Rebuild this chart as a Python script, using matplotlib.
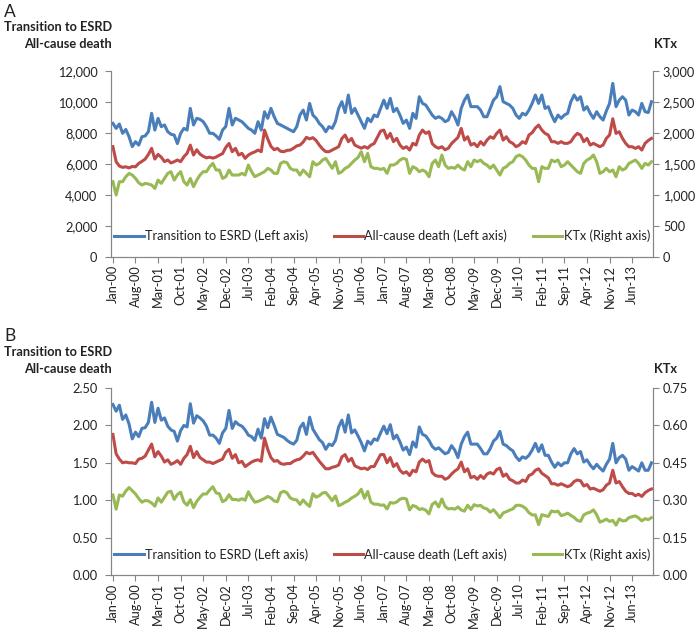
import matplotlib.pyplot as plt
import numpy as np
from matplotlib.ticker import FuncFormatter, MultipleLocator

plt.rcParams['font.family'] = ['Lato', 'DejaVu Sans']

# x axis labels (every 7th month, Jan-00 .. Jun-13)
tick_labels = ['Jan-00', 'Aug-00', 'Mar-01', 'Oct-01', 'May-02', 'Dec-02', 'Jul-03', 'Feb-04',
               'Sep-04', 'Apr-05', 'Nov-05', 'Jun-06', 'Jan-07', 'Aug-07', 'Mar-08', 'Oct-08',
               'May-09', 'Dec-09', 'Jul-10', 'Feb-11', 'Sep-11', 'Apr-12', 'Nov-12', 'Jun-13']

# panel A - monthly counts, Jan 2000 .. Dec 2013
esrd_n = [
    8600, 8280, 8560, 7960, 8210, 7740, 7100, 7420, 7200, 7740, 7790, 8065,
    9250, 8170, 8925, 8390, 8500, 8065, 7900, 7850, 7300, 7960, 8280, 8170,
    9570, 8500, 8925, 8860, 8710, 8390, 7960, 7960, 7790, 7570, 8170, 8400,
    9570, 8500, 8930, 8820, 8710, 8500, 8280, 8170, 7960, 8710, 8170, 9350,
    8930, 9570, 9030, 8600, 8500, 8390, 8280, 8170, 8060, 8390, 9140, 9460,
    8820, 9890, 9140, 8930, 8600, 8390, 8060, 8390, 8280, 8710, 9570, 10000,
    9300, 10430, 9250, 9570, 9140, 8700, 8280, 8930, 8710, 9140, 9030, 9570,
    10100, 9570, 10215, 9355, 9570, 9140, 8600, 8815, 8280, 9250, 8925, 10320,
    9890, 9785, 9460, 9140, 8925, 9030, 8925, 8710, 8815, 9355, 9000, 8495,
    9570, 10100, 10430, 9680, 9680, 9680, 9460, 9030, 9030, 9570, 10100, 10320,
    10970, 10000, 9890, 9785, 9570, 9140, 8925, 9250, 9140, 9460, 9890, 10430,
    9890, 10430, 9570, 9680, 9140, 8710, 9140, 8925, 9140, 9250, 10000, 10430,
    10100, 10320, 9460, 9680, 9250, 8925, 9355, 9030, 8815, 9400, 9890, 11180,
    9680, 10100, 10320, 10100, 9140, 9460, 9355, 9140, 9890, 9355, 9300, 10000,
]
death_n = [
    7100, 6130, 5850, 5765, 5800, 5730, 5820, 5800, 6020, 6150, 6300, 6600,
    6990, 6300, 6600, 6420, 6130, 6240, 6050, 6130, 6240, 6130, 6450, 6670,
    7200, 6560, 6900, 6620, 6480, 6380, 6420, 6360, 6430, 6550, 6650, 7050,
    7310, 6775, 6990, 6560, 6670, 6345, 6560, 6680, 6760, 6880, 6775, 8170,
    7600, 7120, 6900, 6990, 6800, 6775, 6860, 6880, 7000, 7150, 7200, 7400,
    7700, 7600, 7680, 7500, 7200, 6950, 6775, 6775, 6880, 6990, 7100, 7630,
    7850, 7420, 7630, 7200, 7100, 7000, 7100, 7000, 7200, 7300, 7700, 8100,
    8170, 7634, 7956, 7420, 7634, 7204, 6988, 7096, 6880, 7312, 7204, 7850,
    8170, 7956, 8063, 7300, 7096, 7000, 7096, 6900, 7000, 7300, 7500, 7700,
    8278, 7524, 7740, 7204, 7312, 7096, 7420, 7204, 7524, 7740, 7634, 7956,
    8170, 7524, 7740, 7420, 7312, 7096, 7204, 7420, 7312, 7850, 8000, 8300,
    8492, 8170, 7956, 7850, 7420, 7420, 7312, 7420, 7312, 7312, 7420, 7740,
    7956, 7850, 7420, 7634, 7204, 7312, 7204, 7096, 7204, 7634, 7850, 8900,
    7956, 8063, 7634, 7312, 7096, 7096, 6988, 7096, 6880, 7312, 7500, 7634,
]
ktx_n = [
    1210, 995, 1210, 1210, 1290, 1344, 1317, 1263, 1193, 1156, 1183, 1172,
    1156, 1102, 1236, 1183, 1263, 1344, 1371, 1236, 1317, 1371, 1210, 1156,
    1263, 1129, 1236, 1317, 1371, 1371, 1452, 1505, 1398, 1398, 1263, 1290,
    1398, 1317, 1317, 1317, 1344, 1317, 1478, 1371, 1290, 1317, 1344, 1371,
    1425, 1398, 1344, 1344, 1505, 1532, 1516, 1425, 1398, 1398, 1317, 1398,
    1344, 1290, 1532, 1478, 1505, 1559, 1586, 1505, 1425, 1532, 1344, 1371,
    1425, 1452, 1505, 1559, 1600, 1693, 1532, 1666, 1452, 1425, 1425, 1408,
    1425, 1344, 1478, 1478, 1505, 1559, 1586, 1570, 1344, 1452, 1425, 1371,
    1398, 1371, 1290, 1505, 1559, 1452, 1640, 1478, 1425, 1441, 1425, 1478,
    1425, 1398, 1532, 1452, 1559, 1532, 1559, 1505, 1478, 1425, 1478, 1398,
    1317, 1425, 1452, 1505, 1532, 1613, 1640, 1613, 1559, 1478, 1425, 1425,
    1210, 1452, 1425, 1425, 1559, 1532, 1559, 1452, 1478, 1532, 1478, 1425,
    1371, 1344, 1505, 1559, 1586, 1640, 1532, 1344, 1371, 1425, 1371, 1398,
    1290, 1452, 1398, 1425, 1505, 1532, 1559, 1505, 1425, 1505, 1478, 1532,
]

# panel B - monthly rates
esrd_rate = [
    2.28, 2.19, 2.27, 2.08, 2.14, 2.02, 1.82, 1.91, 1.85, 1.96, 1.97, 2.04,
    2.31, 2.04, 2.23, 2.07, 2.10, 1.99, 1.94, 1.92, 1.79, 1.93, 2.00, 1.98,
    2.29, 2.03, 2.13, 2.10, 2.06, 1.99, 1.87, 1.87, 1.83, 1.76, 1.90, 1.96,
    2.20, 1.96, 2.05, 2.01, 1.99, 1.94, 1.87, 1.85, 1.80, 1.95, 1.83, 2.09,
    1.97, 2.11, 2.00, 1.88, 1.86, 1.84, 1.80, 1.77, 1.75, 1.80, 1.97, 2.03,
    1.88, 2.11, 1.95, 1.88, 1.81, 1.77, 1.68, 1.75, 1.73, 1.80, 1.98, 2.07,
    1.91, 2.14, 1.90, 1.94, 1.86, 1.77, 1.66, 1.79, 1.75, 1.82, 1.80, 1.90,
    1.99, 1.89, 2.01, 1.82, 1.87, 1.78, 1.67, 1.71, 1.61, 1.78, 1.71, 1.98,
    1.88, 1.86, 1.80, 1.72, 1.68, 1.70, 1.66, 1.62, 1.64, 1.73, 1.67, 1.57,
    1.75, 1.85, 1.91, 1.75, 1.75, 1.75, 1.69, 1.62, 1.62, 1.69, 1.79, 1.83,
    1.92, 1.75, 1.73, 1.69, 1.66, 1.58, 1.53, 1.58, 1.56, 1.60, 1.67, 1.76,
    1.65, 1.74, 1.60, 1.60, 1.51, 1.44, 1.50, 1.46, 1.50, 1.50, 1.62, 1.69,
    1.62, 1.65, 1.51, 1.54, 1.47, 1.42, 1.48, 1.43, 1.39, 1.48, 1.55, 1.76,
    1.50, 1.57, 1.60, 1.55, 1.40, 1.45, 1.42, 1.39, 1.50, 1.40, 1.40, 1.50,
]
death_rate = [
    1.88, 1.62, 1.55, 1.50, 1.51, 1.50, 1.50, 1.49, 1.55, 1.56, 1.59, 1.67,
    1.75, 1.58, 1.65, 1.59, 1.51, 1.54, 1.48, 1.50, 1.53, 1.48, 1.56, 1.61,
    1.72, 1.57, 1.65, 1.57, 1.54, 1.51, 1.51, 1.49, 1.51, 1.53, 1.55, 1.64,
    1.68, 1.56, 1.61, 1.50, 1.52, 1.45, 1.48, 1.51, 1.53, 1.54, 1.52, 1.83,
    1.68, 1.57, 1.52, 1.53, 1.49, 1.48, 1.49, 1.49, 1.52, 1.54, 1.55, 1.59,
    1.64, 1.62, 1.64, 1.58, 1.52, 1.47, 1.42, 1.42, 1.44, 1.45, 1.47, 1.58,
    1.61, 1.52, 1.56, 1.46, 1.44, 1.42, 1.43, 1.41, 1.45, 1.45, 1.53, 1.61,
    1.61, 1.50, 1.57, 1.45, 1.49, 1.40, 1.36, 1.38, 1.33, 1.40, 1.38, 1.51,
    1.55, 1.51, 1.53, 1.37, 1.33, 1.32, 1.32, 1.28, 1.30, 1.35, 1.39, 1.42,
    1.51, 1.38, 1.42, 1.30, 1.32, 1.28, 1.33, 1.29, 1.35, 1.37, 1.35, 1.41,
    1.43, 1.32, 1.35, 1.28, 1.26, 1.23, 1.23, 1.27, 1.25, 1.33, 1.35, 1.40,
    1.42, 1.36, 1.33, 1.30, 1.22, 1.22, 1.20, 1.22, 1.20, 1.18, 1.20, 1.25,
    1.27, 1.26, 1.19, 1.21, 1.15, 1.16, 1.14, 1.12, 1.14, 1.20, 1.23, 1.40,
    1.23, 1.25, 1.18, 1.12, 1.09, 1.09, 1.06, 1.08, 1.05, 1.10, 1.13, 1.15,
]
ktx_rate = [
    0.321, 0.264, 0.321, 0.316, 0.337, 0.351, 0.338, 0.325, 0.307, 0.292, 0.299, 0.297,
    0.289, 0.276, 0.309, 0.292, 0.312, 0.332, 0.336, 0.303, 0.323, 0.332, 0.293, 0.280,
    0.302, 0.270, 0.295, 0.312, 0.325, 0.325, 0.341, 0.354, 0.329, 0.326, 0.294, 0.301,
    0.322, 0.303, 0.303, 0.300, 0.306, 0.300, 0.334, 0.310, 0.292, 0.295, 0.301, 0.307,
    0.315, 0.309, 0.297, 0.294, 0.330, 0.336, 0.329, 0.309, 0.303, 0.301, 0.283, 0.301,
    0.286, 0.275, 0.326, 0.312, 0.318, 0.329, 0.331, 0.315, 0.298, 0.317, 0.278, 0.284,
    0.292, 0.298, 0.309, 0.316, 0.325, 0.344, 0.308, 0.335, 0.292, 0.284, 0.284, 0.280,
    0.281, 0.265, 0.291, 0.288, 0.293, 0.304, 0.308, 0.305, 0.261, 0.279, 0.274, 0.263,
    0.266, 0.260, 0.245, 0.283, 0.293, 0.273, 0.305, 0.275, 0.265, 0.267, 0.264, 0.273,
    0.261, 0.256, 0.280, 0.263, 0.282, 0.277, 0.279, 0.269, 0.265, 0.252, 0.262, 0.247,
    0.230, 0.249, 0.254, 0.260, 0.265, 0.279, 0.280, 0.276, 0.267, 0.250, 0.241, 0.241,
    0.202, 0.242, 0.238, 0.235, 0.257, 0.253, 0.256, 0.238, 0.242, 0.248, 0.239, 0.231,
    0.219, 0.215, 0.241, 0.248, 0.252, 0.261, 0.242, 0.212, 0.217, 0.224, 0.215, 0.219,
    0.200, 0.225, 0.217, 0.218, 0.230, 0.234, 0.237, 0.229, 0.217, 0.226, 0.222, 0.230,
]

BLUE = '#4A7EBB'
RED = '#BE4B48'
GREEN = '#98B954'
GREY = '#868686'
TXT = '#222222'
FS = 9.2

months = np.arange(len(esrd_n))


def draw_panel(ax, s1, s2, s3, lmax, lstep, rmax, rstep, lfmt, rfmt):
    l1, = ax.plot(months, s1, color=BLUE, lw=2.2, label='Transition to ESRD (Left axis)')
    l2, = ax.plot(months, s2, color=RED, lw=2.2, label='All-cause death (Left axis)')
    ax2 = ax.twinx()
    l3, = ax2.plot(months, s3, color=GREEN, lw=2.2, label='KTx (Right axis)')

    ax.set_xlim(-0.5, len(months) - 0.5)
    ax.set_ylim(0, lmax)
    ax2.set_ylim(0, rmax)
    ax.yaxis.set_major_locator(MultipleLocator(lstep))
    ax2.yaxis.set_major_locator(MultipleLocator(rstep))
    ax.yaxis.set_major_formatter(FuncFormatter(lfmt))
    ax2.yaxis.set_major_formatter(FuncFormatter(rfmt))

    ax.set_xticks(months[::7])
    ax.set_xticklabels(tick_labels, rotation=90)

    for a in (ax, ax2):
        a.spines['top'].set_visible(False)
        for s in ('left', 'right', 'bottom'):
            a.spines[s].set_color(GREY)
        a.tick_params(direction='out', length=4, color=GREY, labelsize=FS, labelcolor=TXT)
    ax.tick_params(axis='y', pad=6)
    ax2.tick_params(axis='y', pad=3)
    ax.tick_params(axis='x', pad=2)

    ax.legend(handles=[l1, l2, l3], loc='lower center', bbox_to_anchor=(0.5, 0.05),
              borderaxespad=0, ncol=3, frameon=False, fontsize=FS, handlelength=2.3,
              handletextpad=0.1, columnspacing=2.0, labelcolor=TXT)


fig = plt.figure(figsize=(7, 6.3), dpi=100)

axA = fig.add_axes([0.159, 0.5925, 0.774, 0.2953])
draw_panel(axA, esrd_n, death_n, ktx_n, 12000, 2000, 3000, 500,
           lambda v, p: '{:,.0f}'.format(v), lambda v, p: '{:,.0f}'.format(v))

axB = fig.add_axes([0.159, 0.0873, 0.774, 0.2968])
draw_panel(axB, esrd_rate, death_rate, ktx_rate, 2.5, 0.5, 0.75, 0.15,
           lambda v, p: '{:.2f}'.format(v), lambda v, p: '{:.2f}'.format(v))

# panel letters and axis headers
fig.text(4 / 700, 1 - 12 / 630, 'A', fontsize=12.5, va='center', color=TXT)
fig.text(112 / 700, 1 - 27 / 630, 'Transition to ESRD', fontsize=9.2, fontweight='bold', ha='right', va='center', color=TXT)
fig.text(112 / 700, 1 - 44 / 630, 'All-cause death', fontsize=9.2, fontweight='bold', ha='right', va='center', color=TXT)
fig.text(654 / 700, 1 - 44 / 630, 'KTx', fontsize=9.2, fontweight='bold', ha='left', va='center', color=TXT)

fig.text(4 / 700, 1 - 336 / 630, 'B', fontsize=12.5, va='center', color=TXT)
fig.text(112 / 700, 1 - 352 / 630, 'Transition to ESRD', fontsize=9.2, fontweight='bold', ha='right', va='center', color=TXT)
fig.text(112 / 700, 1 - 369 / 630, 'All-cause death', fontsize=9.2, fontweight='bold', ha='right', va='center', color=TXT)
fig.text(654 / 700, 1 - 369 / 630, 'KTx', fontsize=9.2, fontweight='bold', ha='left', va='center', color=TXT)

fig.savefig('out.png', dpi=100)
